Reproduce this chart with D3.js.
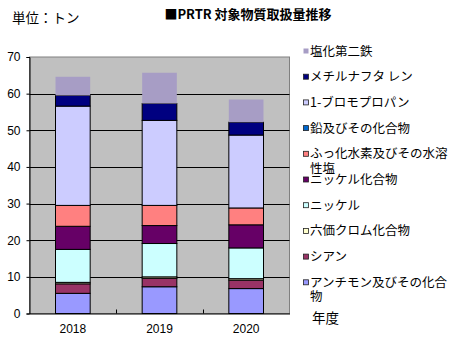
<!DOCTYPE html>
<html>
<head>
<meta charset="utf-8">
<script src="https://cdn.jsdelivr.net/npm/d3@7/dist/d3.min.js"></script>
<style>
  html, body { margin: 0; padding: 0; background: #ffffff; }
  svg { display: block; }
  text { font-family: "Noto Sans CJK JP", "Liberation Sans", sans-serif; }
</style>
</head>
<body>
<svg id="chart" width="457" height="343"></svg>
<script>
// Fiscal years
const years = ["2018", "2019", "2020"];

// Handled quantity per substance (tonnes), stacked bottom to top
const antimony = [5.5, 7.3, 6.8];
const cyanide = [2.6, 2.3, 2.3];
const chromium6 = [0.4, 0.4, 0.4];
const nickel = [9.0, 9.1, 8.4];
const nickelCompounds = [6.3, 4.9, 6.3];
const hydrogenFluoride = [5.7, 5.5, 4.6];
const lead = [0, 0, 0];
const bromopropane = [27.1, 23.2, 19.9];
const methylnaphthalene = [2.9, 4.6, 3.5];
const ferricChloride = [5.1, 8.4, 6.2];

const seriesNames = [
  "アンチモン及びその化合物",
  "シアン",
  "六価クロム化合物",
  "ニッケル",
  "ニッケル化合物",
  "ふっ化水素及びその水溶性塩",
  "鉛及びその化合物",
  "1-ブロモプロパン",
  "メチルナフタ レン",
  "塩化第二鉄"
];
const seriesValues = [antimony, cyanide, chromium6, nickel, nickelCompounds,
  hydrogenFluoride, lead, bromopropane, methylnaphthalene, ferricChloride];
const seriesColors = ["#9999ff", "#993366", "#ffffcc", "#ccffff", "#660066",
  "#ff8080", "#0066cc", "#ccccff", "#000080", "#a79dc5"];
const seriesOutlined = [true, true, true, true, true, true, true, true, true, false];

const yTicks = [0, 10, 20, 30, 40, 50, 60, 70];

// Table for d3.stack
const rows = years.map((y, i) => {
  const r = { year: y };
  seriesNames.forEach((n, k) => { r[n] = seriesValues[k][i]; });
  return r;
});

const svg = d3.select("#chart");
const plot = { left: 29.5, right: 289.5, top: 57, bottom: 313.5 };

const x = d3.scaleBand().domain(years)
  .range([plot.left, plot.right]).paddingInner(0.6).paddingOuter(0.3);
const y = d3.scaleLinear().domain([0, 70]).range([plot.bottom, plot.top]);

// Plot area background
svg.append("rect")
  .attr("x", plot.left).attr("y", plot.top)
  .attr("width", plot.right - plot.left).attr("height", plot.bottom - plot.top)
  .attr("fill", "#c0c0c0").attr("stroke", "#808080").attr("stroke-width", 1);

// Gridlines
svg.append("g").selectAll("line")
  .data(yTicks.filter(t => t > 0 && t < 70))
  .join("line")
  .attr("x1", plot.left).attr("x2", plot.right)
  .attr("y1", d => Math.round(y(d)) + 0.5).attr("y2", d => Math.round(y(d)) + 0.5)
  .attr("stroke", "#000").attr("stroke-width", 1);

// Stacked bars
const stack = d3.stack().keys(seriesNames)(rows);
svg.append("g").selectAll("g")
  .data(stack)
  .join("g")
  .attr("fill", (d, i) => seriesColors[i])
  .attr("stroke", (d, i) => seriesOutlined[i] ? "#000" : "none")
  .attr("stroke-width", 1)
  .selectAll("rect")
  .data(d => d)
  .join("rect")
  .attr("x", d => x(d.data.year))
  .attr("width", x.bandwidth())
  .attr("y", d => y(d[1]))
  .attr("height", d => y(d[0]) - y(d[1]));

// Y axis
const yAxis = svg.append("g")
  .attr("transform", `translate(${plot.left},0)`)
  .call(d3.axisLeft(y).tickValues(yTicks).tickSize(3).tickPadding(6));
yAxis.select(".domain").attr("stroke", "#000");
yAxis.selectAll("text")
  .style("font-family", "'Liberation Sans', sans-serif")
  .style("font-size", "12px").attr("fill", "#000");

// X axis
const xAxis = svg.append("g")
  .attr("transform", `translate(0,${plot.bottom})`)
  .call(d3.axisBottom(x).tickSize(0).tickPadding(11));
xAxis.select(".domain").attr("stroke", "#000");
xAxis.selectAll("text")
  .style("font-family", "'Liberation Sans', sans-serif")
  .style("font-size", "12px").attr("fill", "#000");

// Category separators on the x axis
svg.append("g").selectAll("line")
  .data(years.slice(1))
  .join("line")
  .attr("x1", d => Math.round(x(d) - x.step() * x.paddingInner() / 2) + 0.5)
  .attr("x2", d => Math.round(x(d) - x.step() * x.paddingInner() / 2) + 0.5)
  .attr("y1", plot.bottom - 4).attr("y2", plot.bottom)
  .attr("stroke", "#000");

// Title and unit
svg.append("text")
  .attr("x", 248).attr("y", 19)
  .attr("text-anchor", "middle")
  .style("font-size", "13px").style("font-weight", "bold")
  .text("■PRTR 対象物質取扱量推移");
svg.append("text")
  .attr("x", 12).attr("y", 23)
  .style("font-size", "13.5px")
  .text("単位：トン");

// Legend (top entry = top of stack)
const legendMaxWidth = 140;
const legend = svg.append("g");
const order = d3.range(seriesNames.length).reverse();
order.forEach((k, i) => {
  const cy = 51 + i * 25.7;
  legend.append("rect")
    .attr("x", 303.5).attr("y", cy - 2.5)
    .attr("width", 5).attr("height", 5)
    .attr("fill", seriesColors[k])
    .attr("stroke", seriesOutlined[k] ? "#222" : "none")
    .attr("stroke-width", 0.8);
  const t = legend.append("text")
    .attr("x", 310).attr("y", cy + 4.5)
    .style("font-size", "12.5px");
  // wrap by characters to the legend width
  const chars = Array.from(seriesNames[k]);
  let line = "";
  let lineNo = 0;
  let tspan = t.append("tspan").attr("x", 310).attr("dy", 0);
  chars.forEach(c => {
    tspan.text(line + c);
    if (tspan.node().getComputedTextLength() > legendMaxWidth && line.length) {
      tspan.text(line);
      line = c;
      lineNo++;
      tspan = t.append("tspan").attr("x", 310).attr("dy", 14.5).text(c);
    } else {
      line += c;
    }
  });
});

// Category axis title
svg.append("text")
  .attr("x", 312).attr("y", 323)
  .style("font-size", "13.5px")
  .text("年度");
</script>
</body>
</html>
